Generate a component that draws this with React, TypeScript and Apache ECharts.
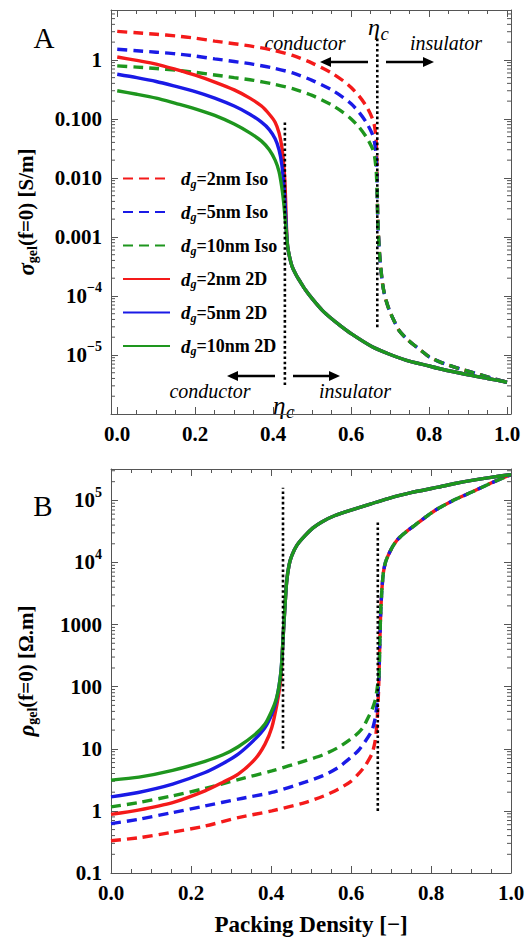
import React, { useEffect, useRef } from 'react';
import * as echarts from 'echarts';

const FONT = '"Liberation Serif", "Times New Roman", Times, serif';
const FRAME = '#555555';
const RED = '#f41a1a';
const BLUE = '#1a1ae6';
const GREEN = '#1e961e';

// ---- ticks / labels ----
const X_TICKS = [0, 0.2, 0.4, 0.6, 0.8, 1.0];
const X_LABELS = ['0.0', '0.2', '0.4', '0.6', '0.8', '1.0'];
const X_MINOR_TICKS = [0.05, 0.1, 0.15, 0.25, 0.3, 0.35, 0.45, 0.5, 0.55, 0.65, 0.7, 0.75, 0.85, 0.9, 0.95];
const A_Y_TICKS = [1, 0.1, 0.01, 0.001, 1e-4, 1e-5];
const A_Y_LABELS = ['1', '0.100', '0.010', '0.001', '10^\u22124', '10^\u22125'];
const B_Y_TICKS = [0.1, 1, 10, 100, 1000, 1e4, 1e5];
const B_Y_LABELS = ['0.1', '1', '10', '100', '1000', '10^4', '10^5'];
const LOG_MINOR_MULTIPLIERS = [2, 3, 4, 5, 6, 7, 8, 9];
const A_DECADES = [-6, -5, -4, -3, -2, -1, 0];
const B_DECADES = [-1, 0, 1, 2, 3, 4, 5];
const A_X_RANGE = [-0.016, 1.01];
const A_Y_RANGE = [1e-6, 7];
const B_X_RANGE = [0, 1];
const B_Y_RANGE = [0.1, 3.2e5];

const SERIES_NAMES = ['dg=2nm Iso', 'dg=5nm Iso', 'dg=10nm Iso', 'dg=2nm 2D', 'dg=5nm 2D', 'dg=10nm 2D'];

// ---- percolation thresholds (dotted markers) ----
const ETA_C_2D = 0.43;
const ETA_C_ISO = 0.667;
const A_DOT_2D = [[ETA_C_2D, 0.087], [ETA_C_2D, 3e-6]];
const A_DOT_ISO = [[ETA_C_ISO, 2.3], [ETA_C_ISO, 2.8e-5]];
const B_DOT_2D = [[ETA_C_2D, 10], [ETA_C_2D, 1.6e5]];
const B_DOT_ISO = [[ETA_C_ISO, 1], [ETA_C_ISO, 4.4e4]];

// ---- panel A: conductivity [S/m] ----
const sigmaIsoTail = [[0.67, 1.1e-3], [0.673, 5e-4], [0.676, 3e-4], [0.68, 1.7e-4], [0.685, 1.1e-4], [0.69, 8.2e-5], [0.698, 5.7e-5], [0.71, 3.8e-5], [0.723, 2.6e-5], [0.74, 1.95e-5], [0.757, 1.55e-5], [0.78, 1.18e-5], [0.8, 9.3e-6], [0.83, 7.5e-6], [0.869, 6.1e-6], [0.9, 5.3e-6], [0.937, 4.5e-6], [0.97, 3.9e-6], [1.0, 3.45e-6]];
const sigmaIso2nm = [[0, 3.04], [0.05, 2.88], [0.1, 2.72], [0.15, 2.55], [0.2, 2.33], [0.25, 2.08], [0.3, 1.88], [0.35, 1.68], [0.4, 1.46], [0.45, 1.19], [0.5, 0.88], [0.55, 0.6], [0.58, 0.44], [0.6, 0.34], [0.62, 0.245], [0.64, 0.16], [0.655, 0.1], [0.66, 0.075], [0.664, 0.045], [0.666, 0.018], [0.667, 0.006], [0.668, 2.5e-3], ...sigmaIsoTail];
const sigmaIso5nm = [[0, 1.51], [0.05, 1.43], [0.1, 1.35], [0.15, 1.27], [0.2, 1.16], [0.25, 1.04], [0.3, 0.94], [0.35, 0.84], [0.4, 0.73], [0.45, 0.6], [0.5, 0.45], [0.55, 0.31], [0.58, 0.23], [0.6, 0.18], [0.62, 0.13], [0.64, 0.085], [0.655, 0.054], [0.66, 0.04], [0.664, 0.024], [0.666, 0.011], [0.667, 0.005], [0.668, 2.4e-3], ...sigmaIsoTail];
const sigmaIso10nm = [[0, 0.79], [0.05, 0.755], [0.1, 0.715], [0.15, 0.67], [0.2, 0.615], [0.25, 0.555], [0.3, 0.5], [0.35, 0.45], [0.4, 0.39], [0.45, 0.325], [0.5, 0.25], [0.55, 0.172], [0.58, 0.128], [0.6, 0.1], [0.62, 0.073], [0.64, 0.048], [0.655, 0.031], [0.66, 0.023], [0.664, 0.014], [0.666, 0.0075], [0.667, 0.0042], [0.668, 2.3e-3], ...sigmaIsoTail];
const sigma2DTail = [[0.437, 7e-4], [0.442, 4.6e-4], [0.449, 3.1e-4], [0.46, 2.2e-4], [0.47, 1.72e-4], [0.483, 1.26e-4], [0.5, 9e-5], [0.526, 5.7e-5], [0.55, 4.1e-5], [0.568, 3.3e-5], [0.6, 2.3e-5], [0.654, 1.38e-5], [0.7, 1.02e-5], [0.74, 8.2e-6], [0.8, 6.5e-6], [0.825, 5.9e-6], [0.9, 4.6e-6], [0.95, 4e-6], [1.0, 3.45e-6]];
const sigma2D2nm = [[0, 1.12], [0.05, 0.98], [0.1, 0.85], [0.15, 0.69], [0.2, 0.55], [0.25, 0.42], [0.3, 0.31], [0.34, 0.225], [0.37, 0.165], [0.39, 0.12], [0.405, 0.088], [0.415, 0.058], [0.422, 0.034], [0.427, 0.017], [0.43, 0.0085], [0.432, 0.004], [0.434, 1.5e-3], ...sigma2DTail];
const sigma2D5nm = [[0, 0.57], [0.05, 0.5], [0.1, 0.43], [0.15, 0.355], [0.2, 0.29], [0.25, 0.225], [0.3, 0.165], [0.34, 0.12], [0.37, 0.088], [0.39, 0.066], [0.405, 0.046], [0.415, 0.03], [0.422, 0.017], [0.427, 0.008], [0.43, 0.0042], [0.432, 0.0024], [0.434, 1.3e-3], ...sigma2DTail];
const sigma2D10nm = [[0, 0.3], [0.05, 0.262], [0.1, 0.225], [0.15, 0.183], [0.2, 0.148], [0.25, 0.115], [0.3, 0.082], [0.34, 0.058], [0.37, 0.042], [0.39, 0.03], [0.405, 0.02], [0.415, 0.0128], [0.422, 0.007], [0.427, 0.0038], [0.43, 0.0023], [0.433, 1.4e-3], ...sigma2DTail];

// ---- panel B: resistivity [Ohm.m] ----
const rhoIsoTail = [[0.67, 150], [0.672, 500], [0.674, 1400], [0.677, 3500], [0.681, 6900], [0.686, 1e4], [0.693, 1.3e4], [0.705, 1.85e4], [0.718, 2.4e4], [0.74, 3.2e4], [0.76, 4e4], [0.79, 5.6e4], [0.818, 7.4e4], [0.86, 1.03e5], [0.902, 1.36e5], [0.95, 1.9e5], [1.0, 2.6e5]];
const rhoIso2nm = [[0, 0.33], [0.07, 0.37], [0.15, 0.45], [0.235, 0.57], [0.318, 0.78], [0.402, 1.0], [0.485, 1.36], [0.53, 1.72], [0.568, 2.24], [0.6, 3.0], [0.618, 3.9], [0.635, 5.3], [0.652, 8.2], [0.66, 13], [0.664, 22], [0.667, 45], [0.669, 90], ...rhoIsoTail];
const rhoIso5nm = [[0, 0.625], [0.068, 0.73], [0.154, 0.94], [0.235, 1.2], [0.318, 1.55], [0.402, 1.98], [0.485, 2.9], [0.53, 3.7], [0.568, 5.0], [0.6, 7.3], [0.618, 9.3], [0.635, 13], [0.652, 19.5], [0.66, 30], [0.664, 46], [0.667, 75], [0.669, 110], ...rhoIsoTail];
const rhoIso10nm = [[0, 1.16], [0.068, 1.36], [0.154, 1.75], [0.235, 2.3], [0.318, 3.2], [0.402, 4.4], [0.485, 6.4], [0.53, 8.0], [0.568, 10.5], [0.61, 16.2], [0.63, 22], [0.643, 32], [0.652, 42], [0.66, 59], [0.665, 90], [0.668, 125], ...rhoIsoTail];
const rho2DTail = [[0.428, 330], [0.431, 750], [0.435, 2000], [0.439, 4800], [0.445, 9000], [0.452, 1.29e4], [0.465, 1.9e4], [0.485, 2.7e4], [0.505, 3.6e4], [0.527, 4.5e4], [0.56, 5.7e4], [0.61, 7.3e4], [0.65, 8.8e4], [0.693, 1.07e5], [0.75, 1.33e5], [0.818, 1.63e5], [0.86, 1.87e5], [0.902, 2.1e5], [0.95, 2.35e5], [1.0, 2.6e5]];
const rho2D2nm = [[0, 0.88], [0.068, 1.03], [0.154, 1.36], [0.235, 2.1], [0.28, 2.9], [0.318, 3.9], [0.36, 6.8], [0.385, 11.9], [0.402, 22], [0.415, 53], [0.423, 110], [0.426, 180], ...rho2DTail];
const rho2D5nm = [[0, 1.68], [0.068, 1.98], [0.154, 2.7], [0.235, 4.15], [0.28, 5.8], [0.318, 8.2], [0.36, 14.3], [0.385, 22], [0.402, 36], [0.412, 56], [0.418, 86], [0.422, 125], [0.425, 180], ...rho2DTail];
const rho2D10nm = [[0, 3.13], [0.07, 3.5], [0.154, 4.5], [0.235, 6.3], [0.28, 8.0], [0.318, 10.8], [0.36, 17.0], [0.385, 25], [0.402, 41], [0.412, 60], [0.418, 86], [0.422, 125], [0.425, 180], ...rho2DTail];

const COLORS = [RED, BLUE, GREEN, RED, BLUE, GREEN];
const DASHED = [true, true, true, false, false, false];
const A_DATA = [sigmaIso2nm, sigmaIso5nm, sigmaIso10nm, sigma2D2nm, sigma2D5nm, sigma2D10nm];
const B_DATA = [rhoIso2nm, rhoIso5nm, rhoIso10nm, rho2D2nm, rho2D5nm, rho2D10nm];

const richify = (s: string) => {
  if (s.indexOf('^') < 0) return s;
  const [b, e] = s.split('^');
  return `{b|${b}}{sup|${e}}`;
};
const logFormatter = (ticks: number[], labels: string[]) => (v: number) => {
  const lv = Math.log10(v);
  for (let i = 0; i < ticks.length; i++) {
    if (Math.abs(Math.log10(ticks[i]) - lv) < 0.01) return richify(labels[i]);
  }
  return '';
};
const xFormatter = (v: number) => {
  const i = X_TICKS.findIndex((t) => Math.abs(t - v) < 1e-6);
  return i >= 0 ? X_LABELS[i] : '';
};

const tickLabelStyle = {
  color: '#000',
  fontFamily: FONT,
  fontWeight: 'bold' as const,
  fontSize: 21,
};
const supRich = {
  b: { fontFamily: FONT, fontWeight: 'bold', fontSize: 21, color: '#000', lineHeight: 30 },
  sup: { fontFamily: FONT, fontWeight: 'bold', fontSize: 14, color: '#000', lineHeight: 16, verticalAlign: 'top' },
};

function minorValues(decades: number[], max: number) {
  const out: number[] = [];
  decades.forEach((d) => LOG_MINOR_MULTIPLIERS.forEach((m) => {
    const v = m * Math.pow(10, d);
    if (v < max) out.push(v);
  }));
  return out;
}

function minorTickSeries(xIdx: number, yIdx: number, values: number[], xr: number[]) {
  return {
    type: 'custom',
    xAxisIndex: xIdx,
    yAxisIndex: yIdx,
    silent: true,
    z: 1,
    encode: { x: 0, y: 1 },
    data: values.map((v) => [xr[0], v]),
    renderItem: (_p: any, api: any) => {
      const v = api.value(1);
      const l = api.coord([xr[0], v]);
      const r = api.coord([xr[1], v]);
      return {
        type: 'group',
        children: [
          { type: 'line', shape: { x1: l[0], y1: l[1], x2: l[0] + 4, y2: l[1] }, style: { stroke: FRAME, lineWidth: 1 } },
          { type: 'line', shape: { x1: r[0] - 4, y1: r[1], x2: r[0], y2: r[1] }, style: { stroke: FRAME, lineWidth: 1 } },
        ],
      };
    },
  };
}

function curveSeries(data: number[][][], xIdx: number, yIdx: number) {
  return data.map((d, i) => ({
    type: 'line',
    name: SERIES_NAMES[i],
    xAxisIndex: xIdx,
    yAxisIndex: yIdx,
    data: d,
    symbol: 'none',
    showSymbol: false,
    smooth: 0.25,
    z: 2,
    silent: true,
    lineStyle: { color: COLORS[i], width: 3.4, type: DASHED[i] ? [10, 6] : 'solid' },
    itemStyle: { color: COLORS[i] },
    emphasis: { disabled: true },
  }));
}

function dotSeries(d: number[][], xIdx: number, yIdx: number, name: string) {
  return {
    type: 'line',
    name,
    xAxisIndex: xIdx,
    yAxisIndex: yIdx,
    data: d,
    symbol: 'none',
    z: 3,
    silent: true,
    lineStyle: { color: '#000', width: 2.6, type: [2.6, 2.6] },
    emphasis: { disabled: true },
  };
}

function xAxes(gridIndex: number, range: number[], custom: boolean) {
  const base = {
    type: 'value',
    gridIndex,
    min: range[0],
    max: range[1],
    splitLine: { show: false },
  };
  const major = (position: string, labels: boolean) => ({
    ...base,
    position,
    ...(custom ? {} : { interval: 0.2 }),
    axisLine: { show: true, onZero: false, lineStyle: { color: FRAME, width: 1 } },
    axisTick: { show: true, inside: true, length: 7, lineStyle: { color: FRAME }, ...(custom ? { customValues: X_TICKS } : {}) },
    minorTick: custom ? { show: false } : { show: true, splitNumber: 4, length: 4, lineStyle: { color: FRAME } },
    axisLabel: labels
      ? { show: true, ...tickLabelStyle, margin: 9, formatter: xFormatter, ...(custom ? { customValues: X_TICKS } : {}) }
      : { show: false },
  });
  const list: any[] = [major('bottom', true), major('top', false)];
  if (custom) {
    ['bottom', 'top'].forEach((position) => list.push({
      ...base,
      position,
      axisLine: { show: false, onZero: false },
      axisTick: { show: true, inside: true, length: 4, lineStyle: { color: FRAME }, customValues: X_MINOR_TICKS },
      axisLabel: { show: false },
    }));
  }
  return list;
}

function yAxes(gridIndex: number, range: number[], ticks: number[], labels: string[], name: string, nameRich: any) {
  const base = {
    type: 'log',
    gridIndex,
    min: range[0],
    max: range[1],
    logBase: 10,
    splitLine: { show: false },
    axisLine: { show: true, onZero: false, lineStyle: { color: FRAME, width: 1 } },
    axisTick: { show: true, inside: true, length: 7, lineStyle: { color: FRAME } },
  };
  return [
    {
      ...base,
      position: 'left',
      name,
      nameLocation: 'middle',
      nameGap: 72,
      nameRotate: 90,
      nameTextStyle: { fontFamily: FONT, fontWeight: 'bold', fontSize: 21, color: '#000', rich: nameRich },
      axisLabel: { show: true, ...tickLabelStyle, margin: 9, formatter: logFormatter(ticks, labels), rich: supRich },
    },
    { ...base, position: 'right', axisLabel: { show: false } },
  ];
}

const nameRich = {
  s: { fontFamily: FONT, fontWeight: 'bold', fontStyle: 'italic', fontSize: 23, color: '#000', lineHeight: 26 },
  sub: { fontFamily: FONT, fontWeight: 'bold', fontSize: 14, color: '#000', lineHeight: 12, verticalAlign: 'bottom' },
  t: { fontFamily: FONT, fontWeight: 'bold', fontSize: 21, color: '#000', lineHeight: 26 },
};

const legendRich = {
  i: { fontFamily: FONT, fontWeight: 'bold', fontStyle: 'italic', fontSize: 19, color: '#000', lineHeight: 22, padding: [0, 0, 0, 6] },
  s: { fontFamily: FONT, fontWeight: 'bold', fontStyle: 'italic', fontSize: 12, color: '#000', lineHeight: 12, verticalAlign: 'bottom' },
  t: { fontFamily: FONT, fontWeight: 'bold', fontSize: 18, color: '#000', lineHeight: 22 },
};

function arrow(x1: number, x2: number, y: number) {
  const dir = x2 > x1 ? 1 : -1;
  return [
    { type: 'line', shape: { x1, y1: y, x2: x2 - dir * 9, y2: y }, style: { stroke: '#000', lineWidth: 2.4 } },
    { type: 'polygon', shape: { points: [[x2, y], [x2 - dir * 11, y - 5], [x2 - dir * 11, y + 5]] }, style: { fill: '#000' } },
  ];
}
function label(text: string, x: number, y: number, size: number, italic: boolean, align = 'center') {
  return {
    type: 'text',
    x,
    y,
    style: { text, fontFamily: FONT, fontSize: size, fontStyle: italic ? 'italic' : 'normal', fill: '#000', align, verticalAlign: 'middle' },
  };
}
function etaC(x: number, y: number, size: number) {
  return [
    label('\u03b7', x, y, size, true, 'left'),
    label('c', x + size * 0.52, y + size * 0.25, size * 0.78, true, 'left'),
  ];
}

export default function App() {
  const ref = useRef<HTMLDivElement>(null);
  useEffect(() => {
    if (!ref.current) return;
    const chart = echarts.init(ref.current, undefined, { renderer: 'svg' });
    const option: any = {
      animation: false,
      backgroundColor: '#fff',
      grid: [
        { left: 111, top: 10, width: 400, height: 404 },
        { left: 111, top: 469, width: 400, height: 404 },
      ],
      legend: {
        data: SERIES_NAMES,
        orient: 'vertical',
        left: 117,
        top: 164,
        itemWidth: 47,
        itemHeight: 14,
        itemGap: 13,
        selectedMode: false,
        itemStyle: { opacity: 0, borderWidth: 0 },
        formatter: (n: string) => `{i|d}{s|g}{t|${n.slice(2)}}`,
        textStyle: { rich: legendRich, fontFamily: FONT },
      },
      xAxis: [
        ...xAxes(0, A_X_RANGE, true),
        ...xAxes(1, B_X_RANGE, false).map((a, i) => (i === 0 ? {
          ...a,
          name: 'Packing Density [\u2212]',
          nameLocation: 'middle',
          nameGap: 40,
          nameTextStyle: { fontFamily: FONT, fontWeight: 'bold', fontSize: 23, color: '#000' },
        } : a)),
      ],
      yAxis: [
        ...yAxes(0, A_Y_RANGE, A_Y_TICKS, A_Y_LABELS, '{s|\u03c3}{sub|gel}{t|(f=0) [S/m]}', nameRich),
        ...yAxes(1, B_Y_RANGE, B_Y_TICKS, B_Y_LABELS, '{s|\u03c1}{sub|gel}{t|(f=0) [\u03a9.m]}', nameRich),
      ],
      series: [
        ...curveSeries(A_DATA, 0, 0),
        dotSeries(A_DOT_2D, 0, 0, 'etaA2D'),
        dotSeries(A_DOT_ISO, 0, 0, 'etaAIso'),
        ...curveSeries(B_DATA, 4, 2),
        dotSeries(B_DOT_2D, 4, 2, 'etaB2D'),
        dotSeries(B_DOT_ISO, 4, 2, 'etaBIso'),
        minorTickSeries(0, 0, minorValues(A_DECADES, A_Y_RANGE[1]), A_X_RANGE),
        minorTickSeries(4, 2, minorValues(B_DECADES, B_Y_RANGE[1]), B_X_RANGE),
      ],
      graphic: [
        label('A', 44, 38, 29, false),
        label('B', 43, 506, 29, false),
        label('conductor', 305, 43, 20, true),
        label('insulator', 446, 43, 20, true),
        ...etaC(368, 27, 24),
        ...arrow(368, 320, 62),
        ...arrow(386, 434, 62),
        ...arrow(275, 227, 376),
        ...arrow(293, 340, 376),
        label('conductor', 210, 391, 20, true),
        label('insulator', 355, 391, 20, true),
        ...etaC(273, 405, 25),
      ],
    };
    chart.setOption(option);
    return () => chart.dispose();
  }, []);
  return <div ref={ref} style={{ position: 'absolute', left: 0, top: 0, width: 528, height: 941, background: '#fff' }} />;
}
